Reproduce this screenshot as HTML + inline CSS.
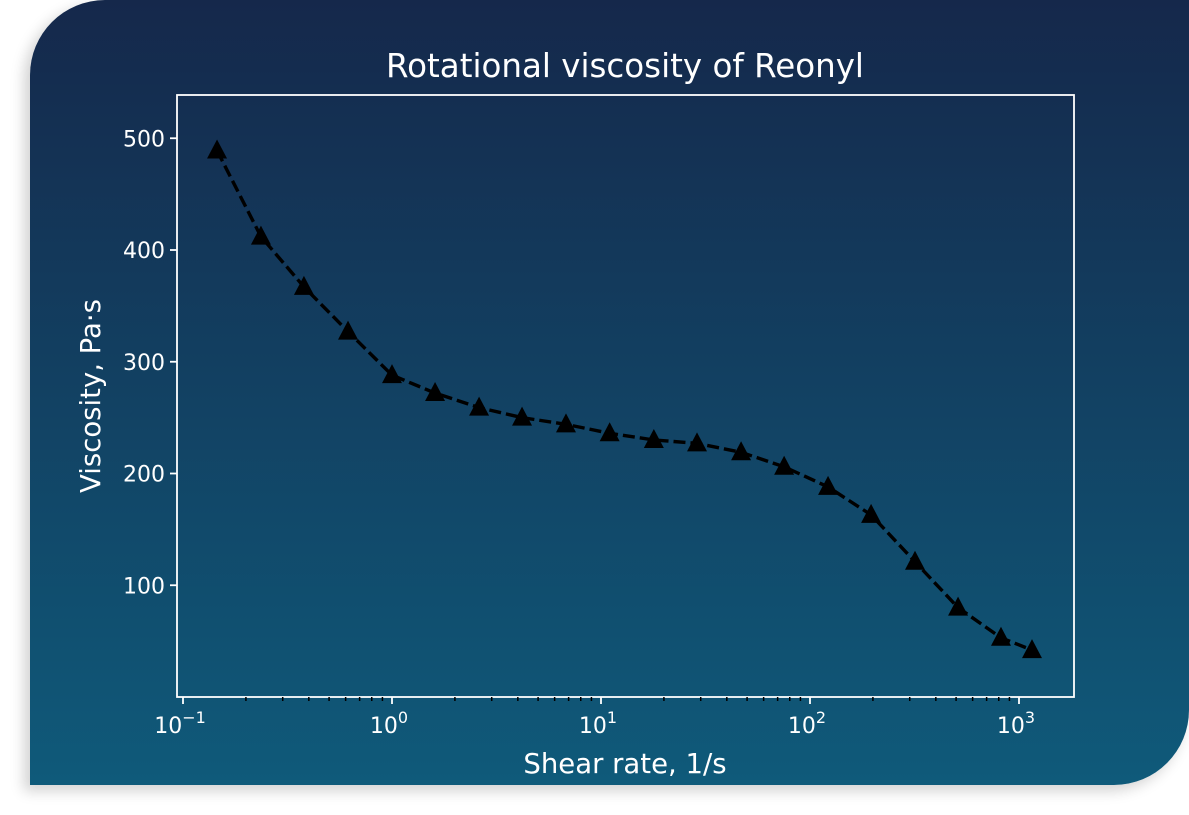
<!DOCTYPE html>
<html><head><meta charset="utf-8"><style>
html,body{margin:0;padding:0;background:#fff;width:1189px;height:815px;overflow:hidden}
#card{position:absolute;left:30px;top:0;width:1159px;height:785px;border-radius:75px 0 75px 0;background:linear-gradient(#15284b,#0f5a7a);box-shadow:-6px 6px 14px rgba(0,0,0,0.18)}
svg{position:absolute;left:0;top:0}
text{font-family:"DejaVu Sans","Liberation Sans",sans-serif;fill:#fff}
</style></head><body>
<div id="card"></div>
<svg id="chart" width="1189" height="815"></svg>
<script>
const shearRates=[0.1455,0.236,0.379,0.616,1.0,1.607,2.61,4.19,6.8,11.0,17.9,28.8,46.8,75.2,122,196,318,511,820,1154];
const viscosity=[489,412,367,327,288,272,259,250,244,236,230,227,219,206,188,163,121,80,53,42];
const yTicks=[100,200,300,400,500];
const xTickExps=[-1,0,1,2,3];
const NS='http://www.w3.org/2000/svg';
const svg=document.getElementById('chart');
const L=177,R=1074,T=95,B=697;
function xs(v){return 392+209*Math.log10(v);}
function ys(v){return 697-1.1175*v;}
function mk(tag,attrs,parent){const e=document.createElementNS(NS,tag);for(const k in attrs)e.setAttribute(k,attrs[k]);(parent||svg).appendChild(e);return e;}
const title=mk('text',{x:625,y:77,'text-anchor':'middle','font-size':32.5});title.textContent='Rotational viscosity of Reonyl';


const frame=mk('rect',{x:L,y:T,width:R-L,height:B-T,fill:'none',stroke:'#fff','stroke-width':1.8});


yTicks.forEach(v=>{const y=ys(v);mk('line',{x1:L-7,x2:L,y1:y,y2:y,stroke:'#fff','stroke-width':1.8});
const t=mk('text',{x:L-12,y:y+8,'text-anchor':'end','font-size':22});t.textContent=v;

});
xTickExps.forEach(e=>{const x=xs(Math.pow(10,e));mk('line',{x1:x,x2:x,y1:B,y2:B+7,stroke:'#fff','stroke-width':1.8});
const t=mk('text',{x:x-3,y:B+36,'text-anchor':'middle','font-size':22});t.textContent='10';
const s=mk('tspan',{dy:-10,'font-size':16},t);s.textContent=e<0?'\u2212'+(-e):String(e);


if(e<3)for(let m=2;m<10;m++){const xm=xs(m*Math.pow(10,e));mk('line',{x1:xm,x2:xm,y1:B,y2:B+4,stroke:'#000','stroke-width':1.5});}});
const xl=mk('text',{x:625,y:773,'text-anchor':'middle','font-size':27.5});xl.textContent='Shear rate, 1/s';


const yl=mk('text',{x:0,y:0,'text-anchor':'middle','font-size':27.5,transform:'translate(100,396) rotate(-90)'});yl.textContent='Viscosity, Pa\u00b7s';


const pts=shearRates.map((v,i)=>[xs(v),ys(viscosity[i])]);
const line=mk('polyline',{points:pts.map(p=>p.join(',')).join(' '),fill:'none',stroke:'#000','stroke-width':3.4,'stroke-dasharray':'12,5'});


pts.forEach(p=>{const [x,y]=p;const m=mk('polygon',{points:`${x},${y-11} ${x-10},${y+8} ${x+10},${y+8}`,fill:'#000'});

});
</script>
</body></html>
